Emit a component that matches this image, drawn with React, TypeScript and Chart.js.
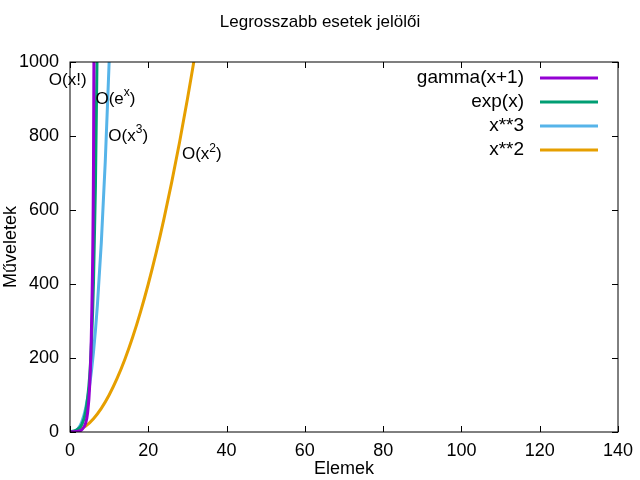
import { useEffect, useRef } from 'react'
import { Chart, registerables } from 'chart.js'

Chart.register(...registerables)

const gammaX = [0, 1, 2, 3, 4, 4.5, 5, 5.5, 6, 6.4]
const gammaY = [1, 1, 2, 6, 24, 52, 120, 287, 720, 1800]
const expX = [0, 1, 2, 3, 4, 5, 5.5, 6, 6.5, 7]
const expY = [1, 2.7, 7.4, 20, 55, 148, 245, 403, 665, 1097]
const cubeX = [0, 1, 2, 3, 4, 5, 6, 7, 8, 9, 10]
const cubeY = [0, 1, 8, 27, 64, 125, 216, 343, 512, 729, 1000]
const sqX = [0, 2, 4, 6, 8, 10, 12, 14, 16, 18, 20, 22, 24, 26, 28, 30, 31.7]
const sqY = [0, 4, 16, 36, 64, 100, 144, 196, 256, 324, 400, 484, 576, 676, 784, 900, 1005]

const seriesNames = ['gamma(x+1)', 'exp(x)', 'x**3', 'x**2']
const seriesColors = ['#9400d3', '#009e73', '#56b4e9', '#e69f00']
// annotation labels: base text, superscript, closing, x, y (data coords)
const notes: [string, string, string, number, number][] = [
  ['O(x!)', '', '', -5.4, 950],
  ['O(e', 'x', ')', 6.5, 900],
  ['O(x', '3', ')', 9.8, 800],
  ['O(x', '2', ')', 28.6, 750],
]
const xTicks = [0, 20, 40, 60, 80, 100, 120, 140]
const yTicks = [0, 200, 400, 600, 800, 1000]

const FONT = '"Liberation Sans", Arial, sans-serif'

const App = () => {
  const ref = useRef<HTMLCanvasElement>(null)
  useEffect(() => {
    document.body.style.margin = '0'
    if (!ref.current) return
    const toPts = (xs: number[], ys: number[]) => xs.map((x, i) => ({ x, y: ys[i] }))
    const pts = [toPts(gammaX, gammaY), toPts(expX, expY), toPts(cubeX, cubeY), toPts(sqX, sqY)]
    const deco = {
      id: 'deco',
      afterDraw(c: any) {
        const ctx = c.ctx
        const a = c.chartArea
        const xs = c.scales.x, ys = c.scales.y
        ctx.save()
        ctx.strokeStyle = '#000'
        ctx.lineWidth = 1
        ctx.strokeRect(a.left, a.top, a.right - a.left, a.bottom - a.top)
        ctx.beginPath()
        xTicks.forEach(t => {
          const p = Math.round(xs.getPixelForValue(t)) + 0.5
          ctx.moveTo(p, a.bottom); ctx.lineTo(p, a.bottom - 6)
          ctx.moveTo(p, a.top); ctx.lineTo(p, a.top + 6)
        })
        yTicks.forEach(t => {
          const p = Math.round(ys.getPixelForValue(t)) + 0.5
          ctx.moveTo(a.left, p); ctx.lineTo(a.left + 6, p)
          ctx.moveTo(a.right, p); ctx.lineTo(a.right - 6, p)
        })
        ctx.stroke()
        ctx.fillStyle = '#000'
        ctx.font = '17px ' + FONT
        ctx.textAlign = 'center'
        ctx.textBaseline = 'middle'
        ctx.fillText('Legrosszabb esetek jelölői', 320, 22)
        // legend
        ctx.textAlign = 'right'
        ctx.font = '19px ' + FONT
        seriesNames.forEach((n, i) => {
          const y = 78 + i * 24
          ctx.fillText(n, 524, y)
          ctx.strokeStyle = seriesColors[i]
          ctx.lineWidth = 3
          ctx.beginPath(); ctx.moveTo(540, y); ctx.lineTo(598, y); ctx.stroke()
        })
        // annotations
        ctx.textAlign = 'left'
        notes.forEach(([b, s, e, x, y]) => {
          let px = xs.getPixelForValue(x)
          const py = ys.getPixelForValue(y)
          ctx.font = '17px ' + FONT
          ctx.fillText(b, px, py)
          px += ctx.measureText(b).width
          if (s) {
            ctx.font = '12px ' + FONT
            ctx.fillText(s, px, py - 6)
            px += ctx.measureText(s).width
            ctx.font = '17px ' + FONT
            ctx.fillText(e, px, py)
          }
        })
        ctx.restore()
      },
    }
    const chart = new Chart(ref.current, {
      type: 'line',
      data: {
        datasets: pts.map((d, i) => ({
          label: seriesNames[i],
          data: d,
          borderColor: seriesColors[i],
          borderWidth: 3,
          pointRadius: 0,
          cubicInterpolationMode: 'monotone' as const,
        })),
      },
      options: {
        animation: false,
        responsive: false,
        layout: { padding: { top: 62, right: 22, left: 0, bottom: 0 } },
        plugins: { legend: { display: false }, title: { display: false }, tooltip: { enabled: false } },
        scales: {
          x: {
            type: 'linear', min: 0, max: 140,
            afterBuildTicks: (s: any) => { s.ticks = xTicks.map(v => ({ value: v })) },
            afterFit: (s: any) => { s.height = 48 },
            grid: { display: false },
            border: { display: false },
            ticks: { color: '#000', font: { size: 18, family: FONT }, padding: 0, callback: (v: any) => String(v) },
            title: { display: true, text: 'Elemek', color: '#000', font: { size: 18, family: FONT }, padding: 0 },
          },
          y: {
            type: 'linear', min: 0, max: 1000,
            afterBuildTicks: (s: any) => { s.ticks = yTicks.map(v => ({ value: v })) },
            afterFit: (s: any) => { s.width = 70 },
            grid: { display: false },
            border: { display: false },
            ticks: { color: '#000', font: { size: 18, family: FONT }, padding: 3, callback: (v: any) => String(v) },
            title: { display: true, text: 'Műveletek', color: '#000', font: { size: 18, family: FONT }, padding: 0 },
          },
        },
      },
      plugins: [deco],
    })
    return () => chart.destroy()
  }, [])
  return (
    <div style={{ width: 640, height: 480 }}>
      <canvas ref={ref} width={640} height={480}></canvas>
    </div>
  )
}

export default App
